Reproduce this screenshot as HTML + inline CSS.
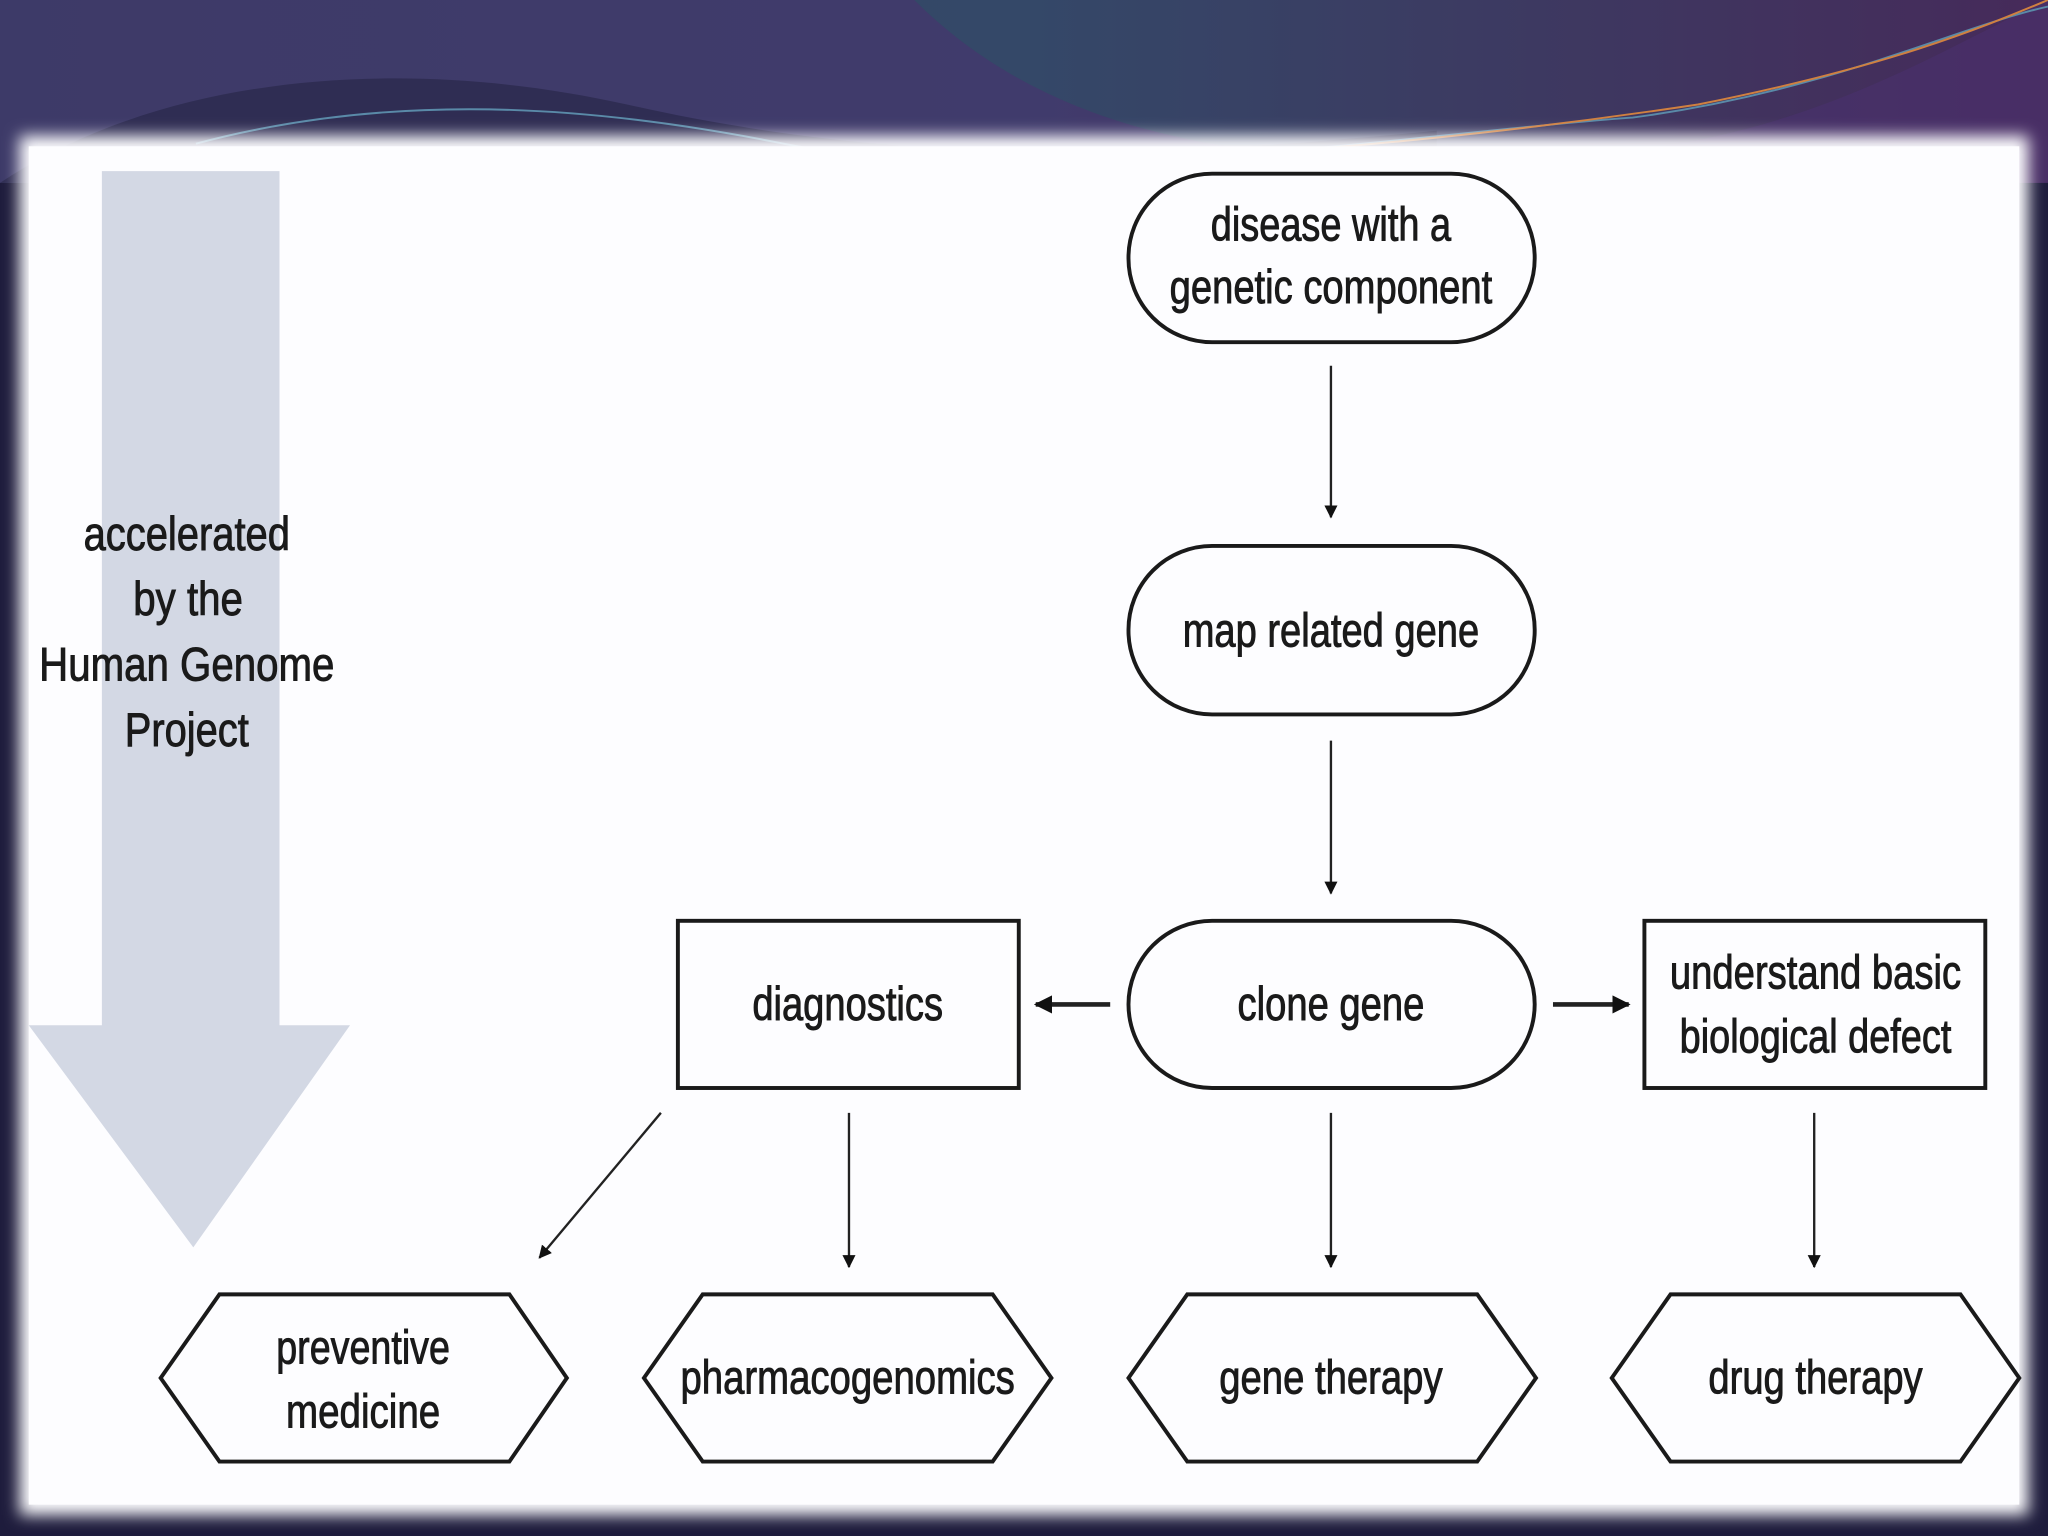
<!DOCTYPE html>
<html><head><meta charset="utf-8"><style>
html,body{margin:0;padding:0;width:2048px;height:1536px;overflow:hidden;background:#1c1a3a;}
svg{display:block}
text{font-family:"Liberation Sans",sans-serif;font-size:36px;fill:#1a1a1a;stroke:#1a1a1a;stroke-width:0.7;text-anchor:middle;}
</style></head><body>
<svg width="2048" height="1536" viewBox="0 0 1568 1176" preserveAspectRatio="none" xmlns="http://www.w3.org/2000/svg">
<defs>
<linearGradient id="bg" x1="0" y1="0" x2="1" y2="0">
<stop offset="0" stop-color="#2e4660"/><stop offset="0.5" stop-color="#344868"/><stop offset="1" stop-color="#462a5a"/>
</linearGradient>
<filter id="blur"><feGaussianBlur stdDeviation="6"/></filter>
<marker id="ah" viewBox="0 0 10 10" refX="9" refY="5" markerWidth="10" markerHeight="12" markerUnits="userSpaceOnUse" orient="auto"><path d="M0,0 L10,5 L0,10 z" fill="#111"/></marker>
<marker id="ah3" viewBox="0 0 10 10" refX="9" refY="5" markerWidth="14" markerHeight="14" markerUnits="userSpaceOnUse" orient="auto"><path d="M0,0 L10,5 L0,10 z" fill="#111"/></marker>
</defs>
<rect width="1568" height="1176" fill="#1e1c3c"/>
<rect width="1568" height="140" fill="url(#bg)"/>
<path d="M700,0 C820,120 1000,130 1200,120 C1380,110 1480,40 1568,0 L1568,140 L0,140 L0,0 Z" fill="#4a3270" opacity="0.55"/>
<path d="M0,140 C120,60 300,40 480,80 C700,130 900,120 1100,100 L1100,140 Z" fill="#2c2a4e" opacity="0.8"/>
<path d="M150,110 C300,70 450,80 600,110 C800,150 1100,100 1250,90 C1400,70 1500,20 1568,5" stroke="#5a8aa8" stroke-width="1.5" fill="none"/>
<path d="M600,115 C800,140 1100,110 1300,80 C1450,50 1520,20 1568,0" stroke="#d08040" stroke-width="1.5" fill="none"/>
<rect x="15" y="104" width="1538" height="1056" fill="#fdfdff" filter="url(#blur)"/>
<rect x="22" y="112" width="1524" height="1040" fill="#fdfdff"/>

<path d="M78,131 L214,131 L214,785 L268,785 L148,955 L22,785 L78,785 Z" fill="#d3d8e4"/>
<text x="143" y="421" textLength="158" lengthAdjust="spacingAndGlyphs">accelerated</text>
<text x="144" y="471" textLength="84" lengthAdjust="spacingAndGlyphs">by the</text>
<text x="143" y="521" textLength="226" lengthAdjust="spacingAndGlyphs">Human Genome</text>
<text x="143" y="571" textLength="95" lengthAdjust="spacingAndGlyphs">Project</text>

<g fill="none" stroke="#1a1a1a" stroke-width="3">
<rect x="864" y="133" width="311" height="129" rx="64" ry="64"/>
<rect x="864" y="418" width="311" height="129" rx="64" ry="64"/>
<rect x="864" y="705" width="311" height="128" rx="64" ry="64"/>
<rect x="519" y="705" width="261" height="128"/>
<rect x="1259" y="705" width="261" height="128"/>
<polygon points="168,991 390,991 434,1055 390,1119 168,1119 123,1055"/>
<polygon points="538,991 760,991 805,1055 760,1119 538,1119 493,1055"/>
<polygon points="909,991 1131,991 1176,1055 1131,1119 909,1119 864,1055"/>
<polygon points="1279,991 1501,991 1546,1055 1501,1119 1279,1119 1234,1055"/>
</g>

<g stroke="#222" stroke-width="1.8" fill="none">
<line x1="1019" y1="280" x2="1019" y2="396" marker-end="url(#ah)"/>
<line x1="1019" y1="567" x2="1019" y2="684" marker-end="url(#ah)"/>
<line x1="650" y1="852" x2="650" y2="970" marker-end="url(#ah)"/>
<line x1="1019" y1="852" x2="1019" y2="970" marker-end="url(#ah)"/>
<line x1="1389" y1="852" x2="1389" y2="970" marker-end="url(#ah)"/>
<line x1="506" y1="852" x2="413" y2="963" marker-end="url(#ah)"/>
<line x1="850" y1="769" x2="793" y2="769" stroke-width="3.5" marker-end="url(#ah3)"/>
<line x1="1189" y1="769" x2="1247" y2="769" stroke-width="3.5" marker-end="url(#ah3)"/>
</g>

<text x="1019" y="184" textLength="184" lengthAdjust="spacingAndGlyphs">disease with a</text>
<text x="1019" y="232" textLength="247" lengthAdjust="spacingAndGlyphs">genetic component</text>
<text x="1019" y="495" textLength="227" lengthAdjust="spacingAndGlyphs">map related gene</text>
<text x="1019" y="781" textLength="143" lengthAdjust="spacingAndGlyphs">clone gene</text>
<text x="649" y="781" textLength="146" lengthAdjust="spacingAndGlyphs">diagnostics</text>
<text x="1390" y="757" textLength="223" lengthAdjust="spacingAndGlyphs">understand basic</text>
<text x="1390" y="806" textLength="208" lengthAdjust="spacingAndGlyphs">biological defect</text>
<text x="278" y="1044" textLength="133" lengthAdjust="spacingAndGlyphs">preventive</text>
<text x="278" y="1093" textLength="118" lengthAdjust="spacingAndGlyphs">medicine</text>
<text x="649" y="1067" textLength="256" lengthAdjust="spacingAndGlyphs">pharmacogenomics</text>
<text x="1019" y="1067" textLength="171" lengthAdjust="spacingAndGlyphs">gene therapy</text>
<text x="1390" y="1067" textLength="164" lengthAdjust="spacingAndGlyphs">drug therapy</text>
</svg>
</body></html>
